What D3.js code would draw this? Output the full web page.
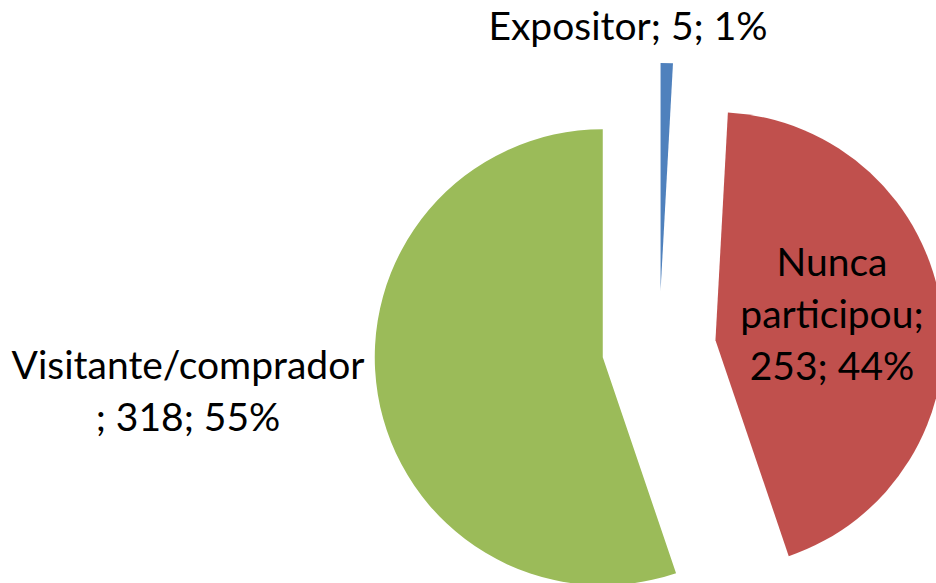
<!DOCTYPE html>
<html>
<head>
<meta charset="utf-8">
<script src="https://cdn.jsdelivr.net/npm/d3@7"></script>
<style>
	body { margin: 0; background: #fff; }
	svg text { font-family: Lato, "Open Sans", sans-serif; fill: #000; }
</style>
</head>
<body>
<div id="chart"></div>
<script>
// data
const categories = [ "Expositor", "Nunca participou", "Visitante/comprador" ];
const values = [ 5, 253, 318 ];
const percents = [ "1%", "44%", "55%" ];
const colors = [ "#4F81BD", "#C0504D", "#9BBB59" ];
// how the labels wrap in the original
const labelLines = [
	[ "Expositor; 5; 1%" ],
	[ "Nunca", "participou;", "253; 44%" ],
	[ "Visitante/comprador", "; 318; 55%" ]
];

const width = 936, height = 583;
const cx = 659, cy = 348, radius = 228, explode = 57;
const lineHeight = 52;
// first-line baseline of each label
const labelPos = [ [ 628, 40 ], [ 832, 276 ], [ 188, 379 ] ];

const svg = d3.select( "#chart" ).append( "svg" )
	.attr( "width", width )
	.attr( "height", height );

const pie = d3.pie().sort( null ).value( d => d );
const arcs = pie( values );
const arc = d3.arc().innerRadius( 0 ).outerRadius( radius );

const g = svg.append( "g" ).attr( "transform", `translate(${cx},${cy})` );

g.selectAll( "path" )
	.data( arcs )
	.enter()
	.append( "path" )
	.attr( "d", arc )
	.attr( "fill", ( d, i ) => colors[ i ] )
	.attr( "transform", d => {
		const mid = ( d.startAngle + d.endAngle ) / 2;
		return `translate(${Math.sin( mid ) * explode},${-Math.cos( mid ) * explode})`;
	} );

const labels = svg.selectAll( ".label" )
	.data( labelLines )
	.enter()
	.append( "text" )
	.attr( "class", "label" )
	.attr( "text-anchor", "middle" )
	.style( "font-size", "39px" );

labels.each( function ( lines, i ) {
	d3.select( this ).selectAll( "tspan" )
		.data( lines )
		.enter()
		.append( "tspan" )
		.attr( "x", labelPos[ i ][ 0 ] )
		.attr( "y", ( l, j ) => labelPos[ i ][ 1 ] + j * lineHeight )
		.text( l => l );
} );
</script>
</body>
</html>
